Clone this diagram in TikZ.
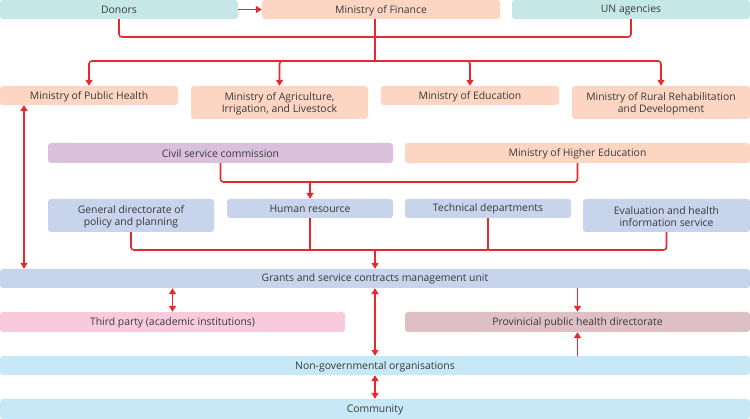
\documentclass[tikz,border=0pt]{standalone}
\usepackage{fontspec}
\setmainfont{Open Sans}
\usetikzlibrary{arrows.meta}
\definecolor{teal}{HTML}{C5E8E6}
\definecolor{salmon}{HTML}{FCD5C3}
\definecolor{lilac}{HTML}{DBC0DC}
\definecolor{bluebox}{HTML}{C8D3EC}
\definecolor{pinkbox}{HTML}{F8CADC}
\definecolor{mauve}{HTML}{DDBFC5}
\definecolor{skybox}{HTML}{C7E8F6}
\definecolor{redline}{HTML}{E8282C}
\definecolor{txt}{HTML}{3A3A3A}
\newcommand\bx[7]{%
  \node[box, fill=#6, minimum width={#4pt-#2pt}, minimum height={#5pt-#3pt}] (#1) at ({(#2+#4)/2},{(#3+#5)/2}) {};
  \node[lbl] (#1-t) at ({(#2+#4)/2},{(#3+#5)/2+0.8}) {#7};}
\begin{document}
\begin{tikzpicture}[x=1pt,y=-1pt,
  box/.style={rounded corners=3pt, inner sep=0pt},
  lbl/.style={inner sep=0pt, align=center, text=txt, font=\fontsize{10.4}{12}\selectfont},
  link/.style={draw=redline, line width=1.6pt, rounded corners=3pt},
  arr/.style={link, -{Triangle[length=6pt,width=7pt]}},
  darr/.style={link, {Triangle[length=6pt,width=7pt]}-{Triangle[length=6pt,width=7pt]}}]
\useasboundingbox (0,0) rectangle (750,419);
% boxes
\bx{donors}{0}{0}{238}{19}{teal}{Donors}
\bx{fin}{262}{0}{500}{19}{salmon}{Ministry of Finance}
\bx{un}{512}{0}{750}{19}{teal}{UN agencies}
\bx{mph}{0}{86}{178}{105}{salmon}{Ministry of Public Health}
\bx{agr}{191}{86}{368}{119}{salmon}{Ministry of Agriculture,\\Irrigation, and Livestock}
\bx{edu}{381}{86}{559}{105}{salmon}{Ministry of Education}
\bx{rural}{572}{86}{750}{119}{salmon}{Ministry of Rural Rehabilitation\\and Development}
\bx{civil}{48}{143}{393}{163}{lilac}{Civil service commission}
\bx{higher}{405}{143}{750}{163}{salmon}{Ministry of Higher Education}
\bx{gen}{48}{199}{214}{232}{bluebox}{General directorate of\\policy and planning}
\bx{hr}{227}{199}{393}{218}{bluebox}{Human resource}
\bx{tech}{405}{199}{571}{218}{bluebox}{Technical departments}
\bx{eval}{583}{199}{750}{232}{bluebox}{Evaluation and health\\information service}
\bx{grants}{0}{269}{750}{288}{bluebox}{Grants and service contracts management unit}
\bx{third}{0}{312}{345}{332}{pinkbox}{Third party (academic institutions)}
\bx{prov}{405}{312}{750}{332}{mauve}{Provinicial public health directorate}
\bx{ngo}{0}{356}{750}{375}{skybox}{Non-governmental organisations}
\bx{comm}{0}{399}{750}{419}{skybox}{Community}
% junction coordinates
\coordinate (jtop) at (375,37);
\coordinate (jmin) at (375,61);
\coordinate (finbot) at (375,19);
\coordinate (jhr) at (310,182);
\coordinate (jgr) at (375,250);
\coordinate (mphbot) at (24,105);
% connectors
\draw[arr] (donors.east) -- (fin.west);
\draw[link] (donors.south) |- (jtop);
\draw[link] (un.south) |- (jtop);
\draw[link] (finbot) -- (jmin);
\draw[arr] (jmin) -| (mph.north);
\draw[arr] (jmin) -| (agr.north);
\draw[arr] (jmin) -| (edu.north);
\draw[arr] (jmin) -| (rural.north);
\draw[darr] (mphbot) -- (mphbot |- grants.north);
\draw[link] (civil.south) |- (jhr);
\draw[link] (higher.south) |- (jhr);
\draw[arr] (jhr) -- (hr.north);
\draw[link] (gen.south) |- (jgr);
\draw[link] (eval.south) |- (jgr);
\draw[link] (hr.south) -- (hr.south |- jgr);
\draw[link] (tech.south) -- (tech.south |- jgr);
\draw[arr] (jgr) -- (grants.north);
\draw[darr] (third.north |- grants.south) -- (third.north);
\draw[darr] (grants.south) -- (ngo.north);
\draw[arr] (prov.north |- grants.south) -- (prov.north);
\draw[arr] (prov.south |- ngo.north) -- (prov.south);
\draw[darr] (ngo.south) -- (comm.north);
\end{tikzpicture}
\end{document}
